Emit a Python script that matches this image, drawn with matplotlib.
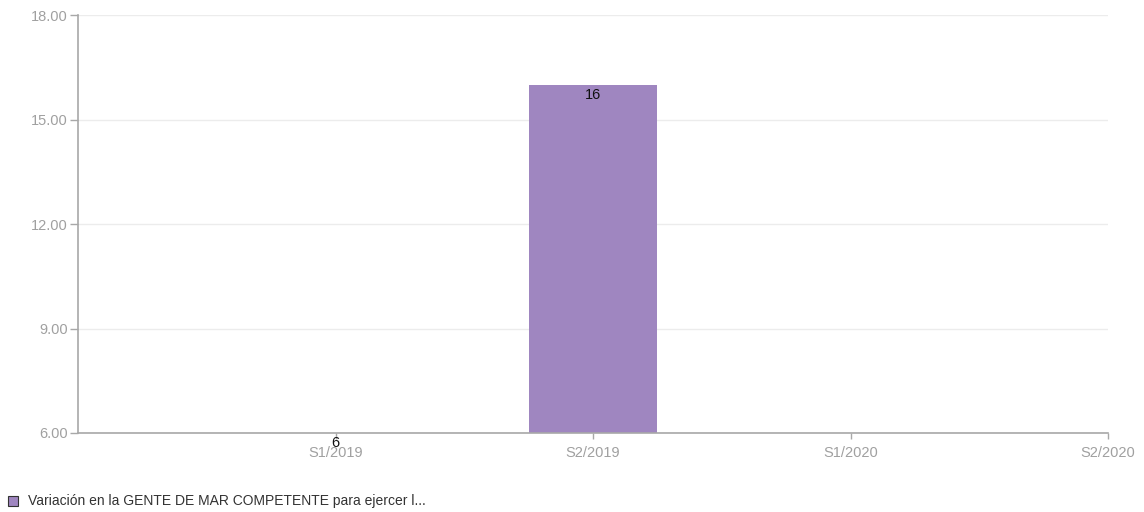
import numpy as np
import matplotlib
matplotlib.use("Agg")
import matplotlib.pyplot as plt

plt.rcParams['font.family'] = ['Liberation Sans', 'DejaVu Sans']

categories = ["S1/2019", "S2/2019", "S1/2020", "S2/2020"]
values = [6, 16, np.nan, np.nan]
y_ticks = [6, 9, 12, 15, 18]
series_name = "Variación en la GENTE DE MAR COMPETENTE para ejercer l..."

bar_color = "#9f86c0"
axis_color = "#a8a8a8"
label_color = "#a0a0a0"
baseline = y_ticks[0]

fig = plt.figure(figsize=(11.44, 5.12), dpi=100)
ax = fig.add_axes([78 / 1144, 1 - 433 / 512, (1108 - 78) / 1144, (433 - 15) / 512])

x = np.arange(len(categories))
for xi, v in zip(x, values):
    if np.isnan(v):
        continue
    ax.bar(xi, v - baseline, bottom=baseline, width=0.5, color=bar_color,
           edgecolor="none", zorder=2)
    ax.annotate(f"{v:g}", xy=(xi, v), xytext=(0, -7.5), textcoords="offset points",
                ha="center", va="center", fontsize=10.5, color="#111111", zorder=4,
                annotation_clip=False)

ax.set_xlim(-1, 3)
ax.set_ylim(y_ticks[0], y_ticks[-1])
ax.set_yticks(y_ticks)
ax.set_yticklabels([f"{t:.2f}" for t in y_ticks])
ax.set_xticks(x)
ax.set_xticklabels(categories)

ax.grid(axis="y", color="#ececec", linewidth=1, zorder=0)
ax.set_axisbelow(True)
for side in ("top", "right"):
    ax.spines[side].set_visible(False)
for side in ("left", "bottom"):
    ax.spines[side].set_color(axis_color)
    ax.spines[side].set_linewidth(1.2)
    ax.spines[side].set_zorder(3)

ax.tick_params(axis="both", colors=axis_color, labelcolor=label_color,
               labelsize=10.5, width=1)
ax.tick_params(axis="y", length=6, pad=1.5)
ax.tick_params(axis="x", length=4.5, pad=5)

# legend entry below the plot
fig.patches.append(plt.Rectangle((8 / 1144, 1 - 506 / 512), 10 / 1144, 10 / 512,
                                 transform=fig.transFigure, facecolor=bar_color,
                                 edgecolor="#333333", linewidth=0.8))
fig.text(28 / 1144, 1 - 501 / 512, series_name, fontsize=10, color="#333333",
         va="center", ha="left")

fig.savefig("out.png", dpi=100)
